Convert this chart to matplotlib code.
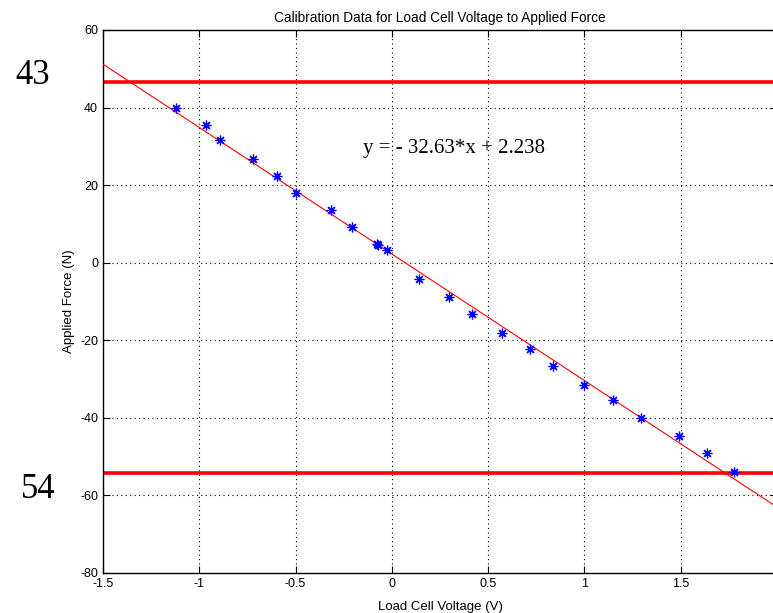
import matplotlib
matplotlib.use("Agg")
import matplotlib.pyplot as plt
import numpy as np

# Data
voltage = [-1.123, -0.967, -0.890, -0.722, -0.594, -0.497, -0.316, -0.207,
           -0.078, -0.070, -0.026, 0.140, 0.295, 0.418, 0.572, 0.719, 0.838,
           0.997, 1.149, 1.295, 1.489, 1.636, 1.777]
force = [39.85, 35.5, 31.6, 26.8, 22.4, 17.9, 13.5, 9.2,
         4.8, 4.6, 3.2, -4.3, -8.9, -13.3, -18.0, -22.3, -26.7,
         -31.5, -35.4, -40.0, -44.7, -49.1, -54.0]
slope = -32.63
intercept = 2.238
upper_limit = 46.5
lower_limit = -54.3
xticks = [-1.5, -1, -0.5, 0, 0.5, 1, 1.5, 2]
xticklabels = ["-1.5", "-1", "-0.5", "0", "0.5", "1", "1.5", ""]
yticks = [-80, -60, -40, -20, 0, 20, 40, 60]
title = "Calibration Data for Load Cell Voltage to Applied Force"
xlabel = "Load Cell Voltage (V)"
ylabel = "Applied Force (N)"
equation = "y = - 32.63*x + 2.238"
side_labels = ["43", "54"]

plt.rcParams['font.family'] = ['Liberation Sans', 'DejaVu Sans']
plt.rcParams['axes.unicode_minus'] = False

fig = plt.figure(figsize=(7.73, 6.13), dpi=100)
ax = fig.add_axes([0.1332, 0.0653, 0.872, 0.8858])

xfit = np.array([-1.5, 2.0])
ax.plot(xfit, slope * xfit + intercept, color='red', lw=0.8, zorder=3)
ax.axhline(upper_limit, color='red', lw=2.6, zorder=2)
ax.axhline(lower_limit, color='red', lw=2.6, zorder=2)
ax.plot(voltage, force, linestyle='none', marker=(8, 2, 0), color='blue',
        markersize=7, markeredgewidth=0.9, zorder=4)

ax.set_xlim(-1.5, 2)
ax.set_ylim(-80, 60)
ax.set_xticks(xticks)
ax.set_xticklabels(xticklabels)
ax.set_yticks(yticks)
ax.grid(True, color='black', linestyle=(0, (1, 3)), linewidth=0.8)
ax.tick_params(direction='in', top=True, right=True, labelsize=9, length=5)
for s in ax.spines.values():
    s.set_linewidth(1.0)

ax.set_title(title, fontsize=9.8, pad=6)
ax.set_xlabel(xlabel, fontsize=9.5, labelpad=8)
ax.set_ylabel(ylabel, fontsize=9.5, labelpad=4)

ax.text(-0.15, 29.5, equation, fontsize=15,
        family=['Liberation Serif', 'DejaVu Serif'], va='center', ha='left')

fig.text(33 / 773, 1 - 75 / 613, side_labels[0], fontsize=25,
         family=['Liberation Serif', 'DejaVu Serif'], ha='center', va='center')
fig.text(38 / 773, 1 - 490 / 613, side_labels[1], fontsize=25,
         family=['Liberation Serif', 'DejaVu Serif'], ha='center', va='center')

fig.savefig('out.png', dpi=100)
